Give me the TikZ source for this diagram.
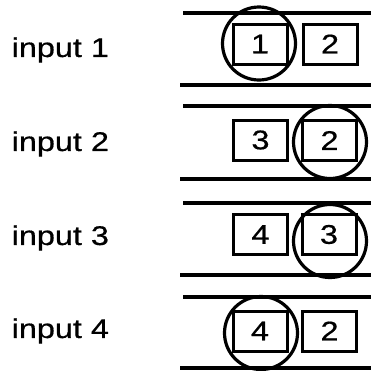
\documentclass[tikz,border=0pt]{standalone}
\usepackage{fontspec}
\setmainfont{Liberation Sans}
\newfontfamily\widefont[FakeStretch=1.2,FakeBold=0.6]{Liberation Sans}
\begin{document}
\begin{tikzpicture}[x=1pt,y=-1pt,
  rail/.style={line width=3.8pt},
  cell/.style={draw,line width=3pt,minimum width=54pt,minimum height=40pt,inner sep=0pt,font=\widefont\fontsize{27}{27}\selectfont},
  ring/.style={draw,circle,line width=3.2pt,minimum size=73pt,inner sep=0pt},
  lbl/.style={anchor=west,inner sep=0pt,font=\widefont\fontsize{27}{27}\selectfont}]
\useasboundingbox[fill=white] (0,0) rectangle (371,370);
% row 1
\coordinate (r1a) at (183,13); \coordinate (r1b) at (371,13);
\coordinate (r1c) at (180,85); \coordinate (r1d) at (371,85);
\draw[rail] (r1a) -- (r1b); \draw[rail] (r1c) -- (r1d);
\node[lbl] (l1) at (11.5,50) {input 1};
\node[cell] (b11) at (260,44) {1};
\node[cell] (b12) at (330,44) {2};
\node[ring] (c1) at (259,43.5) {};
% row 2
\coordinate (r2a) at (183,106); \coordinate (r2b) at (371,106);
\coordinate (r2c) at (180,179); \coordinate (r2d) at (371,179);
\draw[rail] (r2a) -- (r2b); \draw[rail] (r2c) -- (r2d);
\node[lbl] (l2) at (11.5,144) {input 2};
\node[cell] (b21) at (260.5,140) {3};
\node[cell] (b22) at (329.5,140.5) {2};
\node[ring] (c2) at (330,142) {};
% row 3
\coordinate (r3a) at (183,203); \coordinate (r3b) at (371,203);
\coordinate (r3c) at (180,275); \coordinate (r3d) at (371,275);
\draw[rail] (r3a) -- (r3b); \draw[rail] (r3c) -- (r3d);
\node[lbl] (l3) at (11.5,238) {input 3};
\node[cell] (b31) at (260.5,234.5) {4};
\node[cell] (b32) at (329,234.5) {3};
\node[ring] (c3) at (330,241) {};
% row 4
\coordinate (r4a) at (183,297); \coordinate (r4b) at (371,297);
\coordinate (r4c) at (180,368); \coordinate (r4d) at (371,368);
\draw[rail] (r4a) -- (r4b); \draw[rail] (r4c) -- (r4d);
\node[lbl] (l4) at (11.5,331) {input 4};
\node[cell] (b41) at (260,331) {4};
\node[cell] (b42) at (329.5,331) {2};
\node[ring] (c4) at (261,333) {};
\end{tikzpicture}
\end{document}
